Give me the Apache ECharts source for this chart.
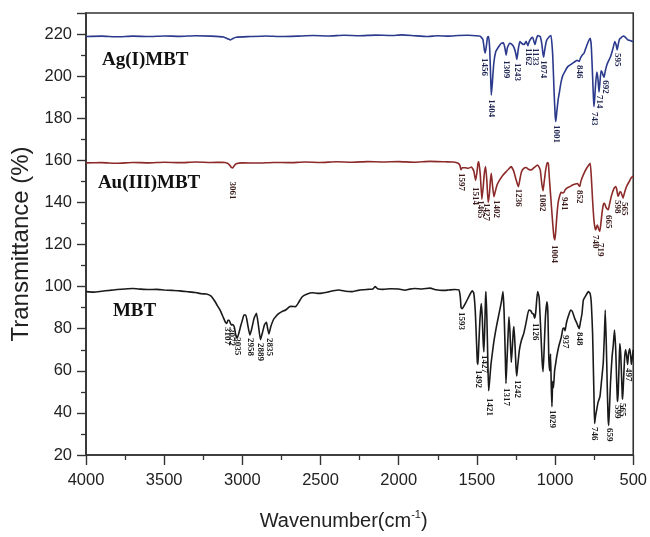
<!DOCTYPE html>
<html>
<head>
<meta charset="utf-8">
<script src="https://cdn.jsdelivr.net/npm/echarts@6/dist/echarts.min.js"></script>
<style>html,body{margin:0;padding:0;background:#fff;}#c{width:650px;height:537px;}</style>
</head>
<body>
<div id="c"></div>
<script>
// ---- data (wavenumber cm-1, transmittance %) ----
var agData = [[4000,218.8],[3900,219.0],[3800,218.7],[3700,219.0],[3600,218.8],[3500,219.1],[3400,218.9],[3300,219.2],[3200,219.0],[3120,218.6],[3090,217.6],[3075,217.2],[3060,217.9],[3040,218.5],[2950,218.8],[2850,219.1],[2750,218.8],[2650,219.0],[2550,219.3],[2450,219.1],[2350,219.4],[2250,219.2],[2150,219.5],[2050,219.3],[1980,219.6],[1900,219.2],[1820,218.8],[1750,219.2],[1680,219.0],[1620,219.3],[1560,219.4],[1510,219.2],[1480,219.0],[1462,217.5],[1452,212.5],[1447,211],[1440,214],[1432,218.5],[1425,218.8],[1418,213],[1412,200],[1408,191],[1402,196],[1392,206],[1380,211.5],[1365,213.5],[1345,215.5],[1330,215.8],[1320,213],[1313,210],[1305,213.5],[1290,215.6],[1278,215.2],[1265,214],[1252,211],[1244,208],[1236,212.5],[1225,216.4],[1212,215.5],[1198,215],[1185,216.5],[1174,214.5],[1165,216.5],[1150,218.2],[1143,218.4],[1135,216.5],[1128,215],[1120,217.5],[1111,219.3],[1095,218.8],[1085,215.5],[1078,211],[1073,209],[1066,212.5],[1055,216.8],[1040,218.5],[1026,219.3],[1015,210],[1006,192],[999,181],[995,178.5],[989,183],[980,189],[973,192],[962,197],[952,200],[935,202.5],[920,204.4],[900,205.5],[877,206.7],[860,207.5],[850,207.2],[845,207],[838,208.5],[828,209.8],[814,211],[800,214],[785,216.8],[775,218],[768,214],[760,200],[754,189],[751,185.5],[746,190],[740,197],[733,202],[726,199],[719,192.5],[713,197],[706,202.5],[700,202],[693,200.5],[686,199.5],[680,202],[668,205.5],[656,207.5],[644,209.5],[630,213],[618,216.4],[610,215],[603,212.5],[596,215],[588,217.5],[581,218],[570,218.8],[560,219],[548,218.3],[535,217.2],[527,217.1],[515,216.8],[506,216.5],[500,216.8]];

var auData = [[4000,158.8],[3900,158.9],[3800,158.6],[3700,159.0],[3600,158.8],[3500,159.1],[3400,158.9],[3300,159.2],[3200,159.0],[3130,159.1],[3095,158.6],[3080,157.6],[3070,156.6],[3062,156.4],[3052,157.4],[3040,158.4],[3000,158.8],[2900,158.7],[2800,159.0],[2700,158.9],[2600,159.2],[2500,159.0],[2400,159.3],[2300,159.1],[2200,159.4],[2100,159.2],[2000,159.4],[1900,159.1],[1800,159.5],[1700,159.3],[1650,159.2],[1620,158.6],[1608,157.5],[1602,155.5],[1594,156.5],[1575,156.5],[1556,156.2],[1535,156.8],[1520,155],[1508,150.5],[1500,154],[1493,158.5],[1488,159.4],[1478,153],[1468,141.5],[1460,147],[1452,154],[1444,157.1],[1436,150],[1428,140],[1420,144],[1414,150],[1408,153.8],[1400,148],[1391,142.7],[1383,145],[1370,148.5],[1355,150.6],[1335,152.8],[1313,154.6],[1295,156],[1281,157],[1265,155],[1250,151],[1240,148.5],[1234,147.5],[1226,150.5],[1215,154.5],[1200,156.2],[1185,156.6],[1170,155.8],[1153,155.4],[1135,156.5],[1111,157.8],[1095,155.5],[1085,149],[1077,145.5],[1070,149.5],[1060,155.5],[1050,159],[1043,158.5],[1035,150],[1025,140],[1015,130],[1007,123.5],[1001,122.2],[995,127],[987,135],[980,140],[972,142.7],[962,144.8],[952,144.5],[943,144.8],[935,146],[920,147],[905,147.5],[888,148.3],[870,148.8],[856,149],[848,148],[842,147.6],[835,150],[820,153],[800,156],[784,157.8],[775,158.6],[768,152],[760,141],[752,132],[745,128],[740,126.9],[734,128.5],[729,129.3],[722,127.5],[714,126.2],[707,130],[698,136],[690,139.3],[683,139.6],[676,138],[668,137],[660,136.5],[652,139],[640,143],[623,146.7],[612,147.5],[605,146],[598,143],[593,143.5],[586,145],[580,145.1],[572,143.5],[565,142],[558,144],[548,146.5],[538,148.3],[525,150],[512,151.8],[500,152.5]];

var mbtData = [[4000,97.6],[3950,97.4],[3900,97.8],[3850,98.2],[3800,98.6],[3750,98.9],[3700,99.1],[3650,98.8],[3600,98.6],[3550,98.7],[3500,98.4],[3450,98.2],[3400,98.0],[3350,97.6],[3300,97.2],[3260,96.6],[3230,96.5],[3200,95.5],[3180,93.5],[3160,91],[3140,88.5],[3120,85],[3108,83],[3100,82.5],[3092,84],[3084,84],[3076,82.5],[3070,81.8],[3062,82],[3052,81],[3042,77],[3033,75.5],[3022,78],[3010,81.5],[3000,84],[2990,86.5],[2978,86.5],[2966,82],[2952,77],[2940,80],[2925,85],[2910,87.3],[2898,82],[2884,74.8],[2872,78],[2858,82],[2846,83],[2838,80],[2830,77.5],[2818,81],[2800,84.5],[2787,85.7],[2770,87],[2750,88],[2723,88.9],[2700,90.4],[2690,90.6],[2660,90.5],[2640,92.5],[2617,95.2],[2585,96.5],[2553,97.1],[2520,96.8],[2490,96.9],[2450,97.5],[2420,98],[2384,98.4],[2340,97.8],[2301,97.6],[2260,98.2],[2230,98.5],[2195,98.7],[2165,98.9],[2150,100],[2135,99],[2100,98.7],[2050,99],[2000,98.9],[1960,98.3],[1930,98.8],[1900,99.1],[1850,98.9],[1800,99.3],[1760,98.5],[1720,98.2],[1680,98.4],[1640,98.6],[1615,98.5],[1606,95],[1601,90],[1594,89.5],[1585,90.5],[1570,92.5],[1550,95.5],[1530,98],[1520,97],[1510,88],[1503,75],[1497,64],[1493,63],[1488,72],[1480,85],[1472,92],[1466,86],[1460,74],[1455,69],[1450,80],[1445,94],[1442,97.6],[1436,85],[1430,65],[1425,50.5],[1420,54],[1410,63],[1400,69],[1390,74.6],[1375,81],[1358,87.3],[1345,92],[1333,97.6],[1326,88],[1318,66],[1314,54],[1308,64],[1300,78],[1295,85.7],[1288,78],[1280,64],[1274,70],[1268,78],[1263,81],[1256,72],[1250,62],[1245,57.5],[1238,63],[1228,70],[1215,74.5],[1200,77.8],[1185,83],[1168,88.9],[1155,88.5],[1147,87.3],[1138,87],[1131,85],[1124,87.5],[1117,94],[1111,97.6],[1102,95],[1092,80],[1083,65],[1077,59.6],[1071,68],[1062,85],[1052,92.8],[1046,88],[1040,66],[1034,60],[1029,68],[1024,52],[1020,43],[1015,55],[1010,52],[1003,60],[995,64],[988,67.3],[975,72],[960,76],[950,80],[942,80.3],[936,79],[928,82.5],[915,86],[900,88.9],[890,88.3],[875,85],[860,82.5],[852,81],[845,80],[838,83],[828,87],[819,93.6],[805,95.5],[787,97.6],[776,96.8],[768,92],[760,78],[754,58],[750,44],[747,35],[742,38],[735,41],[725,45],[713,47.7],[703,55],[692,63.6],[685,76],[679,88.9],[672,72],[666,52],[661,38],[657,34],[652,42],[645,55],[635,67],[628,72],[620,79.4],[612,70],[606,55],[602,47],[600,45.5],[596,50],[590,64],[586,73],[580,68],[575,58],[570,48],[568,46.5],[564,52],[558,62],[553,68],[548,70],[542,67],[536,63],[530,68],[522,70.5],[516,67],[512,63],[506,66],[500,70]];

// peak labels: [wavenumber position, transmittance of label top, text]
var agPeaks = [[1450,208.6,'1456'],[1408,189,'1404'],[1313,207.6,'1309'],[1244,206.2,'1243'],[1174,213.4,'1162'],[1128,213.4,'1133'],[1073,207.6,'1074'],[994,176.8,'1001'],[842,205.3,'846'],[750,183,'743'],[718,191,'714'],[680,198,'692'],[602,211,'595']];
var auPeaks = [[3065,150,'3061'],[1599,154,'1597'],[1510,147.3,'1514'],[1476,141,'1465'],[1440,139.7,'1427'],[1376,141.1,'1402'],[1238,146.5,'1236'],[1079,144.3,'1082'],[1005,119.8,'1004'],[941,142.6,'941'],[842,145.9,'852'],[740,124.5,'740'],[712,120.7,'719'],[659,134,'665'],[602,141.1,'598'],[559,140.2,'565']];
var mbtPeaks = [[3098,80.8,'3107'],[3069,80.3,'3072'],[3031,76,'3035'],[2950,75.6,'2958'],[2882,73.2,'2889'],[2829,75.6,'2835'],[1599,87.9,'1593'],[1493,60.4,'1492'],[1450,67.5,'1427'],[1423,47.1,'1421'],[1313,51.8,'1317'],[1244,55.6,'1242'],[1128,82.7,'1126'],[1020,41.4,'1029'],[935,77,'937'],[842,78.4,'848'],[747,33.3,'746'],[655,32.8,'659'],[602,43.8,'599'],[570,44.7,'565'],[534,61.3,'497']];

// sample names: [wavenumber at left edge, transmittance at middle, text]
var sampleNames = [[3898,207.6,'Ag(I)MBT'],[3924,149.2,'Au(III)MBT'],[3828,88.4,'MBT']];

var xTicks = [500, 4000, 500]; // min, max, interval
var yTicks = [20, 230, 20];

var SANS = '"Liberation Sans", Arial, sans-serif';
var SERIF = '"Liberation Serif", "Times New Roman", serif';

function lineSeries(data, color) {
  return {
    type: 'line', data: data, showSymbol: false, symbol: 'none', smooth: 0.15,
    lineStyle: {color: color, width: 1.6}, silent: true, z: 2
  };
}
function peakSeries(data, color) {
  return {
    type: 'scatter', data: data, symbolSize: 1, itemStyle: {color: 'rgba(0,0,0,0)', opacity: 1},
    silent: true, z: 5,
    label: {
      show: true, position: 'inside', align: 'left', verticalAlign: 'middle', rotate: -90,
      formatter: function (p) { return p.value[2]; },
      fontFamily: SERIF, fontWeight: 'bold', fontSize: 9, color: color
    }
  };
}

var chart = echarts.init(document.getElementById('c'), null, {renderer: 'canvas'});
chart.setOption({
  animation: false,
  backgroundColor: '#fff',
  grid: {left: 86, right: 14, top: 13, bottom: 82, show: true, borderColor: '#333', borderWidth: 1.6, backgroundColor: 'transparent'},
  xAxis: {
    type: 'value', inverse: true, min: xTicks[0], max: xTicks[1], interval: xTicks[2],
    name: '{a|Wavenumber(cm}{s|-1}{a|)}', nameLocation: 'middle', nameGap: 54,
    nameTextStyle: {
      padding: [0, 32, 0, 0],
      rich: {
        a: {fontSize: 20, fontFamily: SANS, color: '#222', lineHeight: 24},
        s: {fontSize: 11, fontFamily: SANS, color: '#222', lineHeight: 12, verticalAlign: 'top'}
      }
    },
    axisLine: {show: true, onZero: false, lineStyle: {color: '#333', width: 1.6}},
    axisTick: {show: true, length: 10, lineStyle: {color: '#333', width: 1.4}},
    minorTick: {show: true, splitNumber: 2, length: 5, lineStyle: {color: '#333', width: 1.3}},
    axisLabel: {fontSize: 16.5, fontFamily: SANS, color: '#222', margin: 17,
      formatter: function (v) { return String(v); }},
    splitLine: {show: false}
  },
  yAxis: {
    type: 'value', min: yTicks[0], max: yTicks[1], interval: yTicks[2],
    name: 'Transmittance (%)', nameLocation: 'middle', nameGap: 53,
    nameTextStyle: {fontSize: 24, fontFamily: SANS, color: '#222', padding: [0, 20, 0, 0]},
    axisLine: {show: true, onZero: false, lineStyle: {color: '#333', width: 1.6}},
    axisTick: {show: true, length: 9, lineStyle: {color: '#333', width: 1.4}},
    minorTick: {show: true, splitNumber: 2, length: 5, lineStyle: {color: '#333', width: 1.3}},
    axisLabel: {fontSize: 16.5, fontFamily: SANS, color: '#222', margin: 14, showMaxLabel: false,
      formatter: function (v) { return v > 220 ? '' : String(v); }},
    splitLine: {show: false}
  },
  series: [
    lineSeries(agData, '#2b3a8c'),
    lineSeries(auData, '#8c2a2a'),
    lineSeries(mbtData, '#1a1a1a'),
    peakSeries(agPeaks, '#1d2450'),
    peakSeries(auPeaks, '#3a1a1a'),
    peakSeries(mbtPeaks, '#1a1a1a'),
    {
      type: 'scatter', data: sampleNames, symbolSize: 1, itemStyle: {color: 'rgba(0,0,0,0)', opacity: 1}, silent: true, z: 6,
      label: {show: true, position: 'inside', align: 'left', verticalAlign: 'middle',
        formatter: function (p) { return p.value[2]; },
        fontFamily: SERIF, fontWeight: 'bold', fontSize: 19, color: '#111'}
    }
  ]
});
</script>
</body>
</html>
